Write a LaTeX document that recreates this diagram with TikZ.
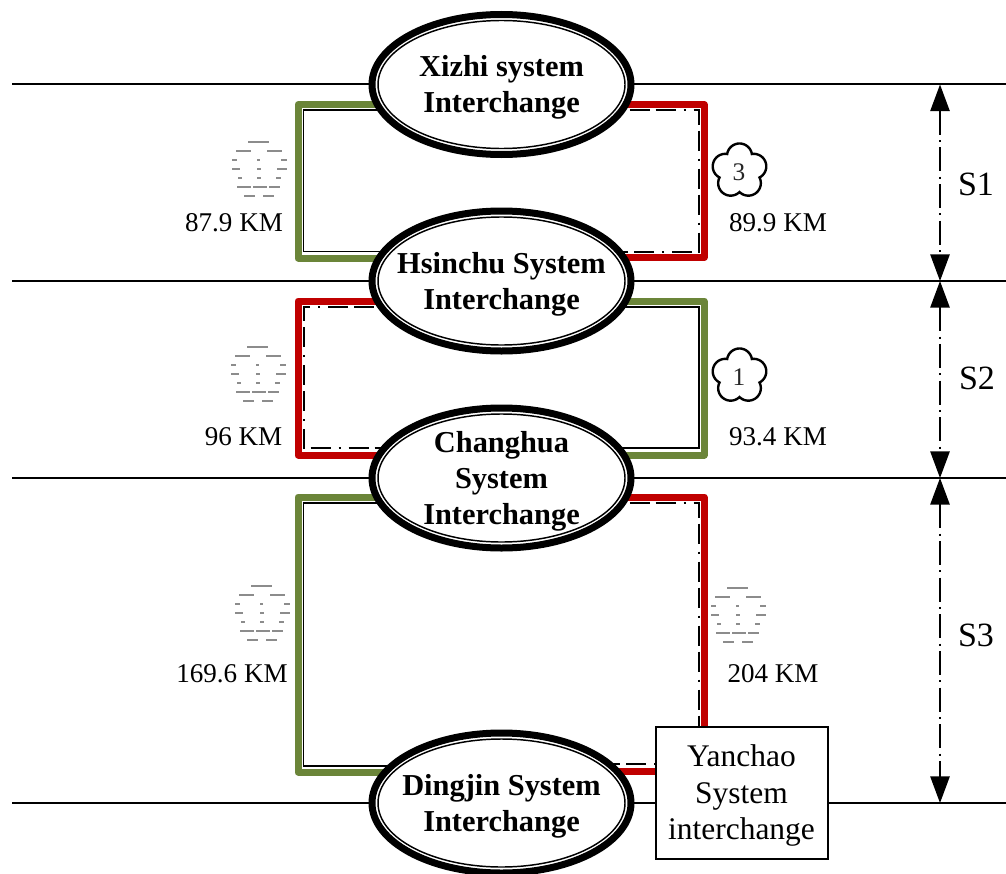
\documentclass[tikz,border=0pt]{standalone}
\usepackage{fontspec}
\setmainfont{Liberation Serif}
\usetikzlibrary{arrows.meta,calc,shapes.geometric}
\pgfdeclarelayer{under}
\pgfsetlayers{under,main}
\definecolor{rtred}{HTML}{C00000}
\definecolor{rtgreen}{HTML}{6B8539}
\tikzset{
  x=0.75pt,y=-0.75pt,
  hwy/.style={draw=black,line width=1.5pt},
  sysnode/.style={ellipse,draw=black,fill=white,line width=5.25pt,inner sep=0pt,minimum width=194.25pt,minimum height=105pt},
  systext/.style={inner sep=0pt,align=center,font=\fontsize{22.8pt}{27pt}\selectfont\bfseries},
  innerring/.style={draw=black,line width=1.1pt},
  thick green/.style={draw=rtgreen,line width=5.25pt,line join=round},
  thick red/.style={draw=rtred,line width=5.25pt,line join=round},
  thin solid/.style={draw=black,line width=0.9pt},
  thin dash/.style={draw=black,line width=1.5pt,dash pattern=on 15pt off 4.5pt on 15pt off 6pt on 1.5pt off 6pt},
  dim/.style={draw=black,line width=1.3pt,dash pattern=on 18pt off 4pt on 1.5pt off 4pt,{Triangle[length=20pt,width=14.5pt]}-{Triangle[length=20pt,width=14.5pt]}},
  kmlabel/.style={inner sep=0pt,font=\fontsize{20.3pt}{24pt}\selectfont},
  seclabel/.style={inner sep=0pt,font=\fontsize{25.5pt}{30pt}\selectfont},
  boxnode/.style={rectangle,draw=black,fill=white,line width=1.5pt,inner sep=0pt,minimum width=129pt,minimum height=99pt},
  boxtext/.style={inner sep=0pt,align=center,font=\fontsize{23.6pt}{27.6pt}\selectfont},
  flowernum/.style={inner sep=0pt,font=\fontsize{19pt}{20pt}\selectfont,text=black!85},
  faint/.style={draw=black!45,line width=1pt},
  flowerline/.style={draw=black,line width=1.8pt},
  fainticon/.pic={
    \foreach \a/\b/\r in {-12/9/-27, -24/-9/-18,7/22/-18, -28/-23/-9,-3/0/-9,21/27/-9, -28/-20/0,-3/1/0,17/27/0, -22/-18/9,-3/1/9,16/21/9, -23/-9/18,-7/7/18,9/20/18, -16/-5/27,3/14/27}
      {\draw[faint] (\a,\r) -- (\b,\r);}
  },
  flowershape/.pic={
    \draw[flowerline,fill=white] plot[domain=0:360,samples=361] (\x:{15*cos(mod(\x+126,72)-36)+sqrt(156.25-225*sin(mod(\x+126,72)-36)^2)}) -- cycle;
  }
}
\begin{document}
\begin{tikzpicture}
\useasboundingbox (0,0) rectangle (1006,874);
\clip (0,0) rectangle (1006,874);
% interchange nodes
\node[sysnode] (xizhi) at (501.5,84.5) {};
\node[sysnode] (hsinchu) at (501.5,281) {};
\node[sysnode] (changhua) at (501.5,478) {};
\node[sysnode] (dingjin) at (501.5,803) {};
\foreach \n in {xizhi,hsinchu,changhua,dingjin}
  \draw[innerring] (\n.center) ellipse [x radius=123.5,y radius=64];
\node[systext] (xizhitext) at (501.5,87) {Xizhi system\\Interchange};
\node[systext] (hsinchutext) at (501.5,284) {Hsinchu System\\Interchange};
\node[systext] (changhuatext) at (501.5,481) {Changhua\\System\\Interchange};
\node[systext] (dingjintext) at (501.5,806) {Dingjin System\\Interchange};
\node[boxnode] (yanchao) at (741.5,793) {};
\node[boxtext] (yanchaotext) at (741.5,795.5) {Yanchao\\System\\interchange};
% anchors
\foreach \y/\n in {84.5/a,281/b,478/c,803/d}{
  \coordinate (hl\n) at (12,\y);
  \coordinate (hr\n) at (1006,\y);
  \coordinate (hm\n) at (940,\y);
}
\foreach \n/\x/\y in {
  ga/298/104.5, gb/298/258, ra/704/104.5, rb/704/257.5,
  ia/303.5/110, ib/303.5/251.7, ja/699/110, jb/699/251.7,
  rc/298/301, rd/298/455, gc/704/301, gd/704/455,
  ic/303.5/307, id/303.5/448, jc/699/307, jd/699/448,
  ge/298/497, gf/298/772, re/704/497, rf/704/771,
  ie/303.5/503, if/303.5/766, je/699/503, jf/699/764}
  \coordinate (\n) at (\x,\y);
\begin{pgfonlayer}{under}
  \foreach \n in {a,b,c,d} \draw[hwy] (hl\n) -- (hr\n);
  % Xizhi - Hsinchu
  \draw[thick green] (xizhi.center |- ga) -- (ga) -- (gb) -- (hsinchu.center |- gb);
  \draw[thin solid] (xizhi.center |- ia) -- (ia) -- (ib) -- (hsinchu.center |- ib);
  \draw[thick red] (xizhi.center |- ra) -- (ra) -- (rb) -- (hsinchu.center |- rb);
  \draw[thin dash] (xizhi.center |- ja) -- (ja) -- (jb) -- (hsinchu.center |- jb);
  % Hsinchu - Changhua
  \draw[thick red] (hsinchu.center |- rc) -- (rc) -- (rd) -- (changhua.center |- rd);
  \draw[thin dash] (hsinchu.center |- ic) -- (ic) -- (id) -- (changhua.center |- id);
  \draw[thick green] (hsinchu.center |- gc) -- (gc) -- (gd) -- (changhua.center |- gd);
  \draw[thin solid] (hsinchu.center |- jc) -- (jc) -- (jd) -- (changhua.center |- jd);
  % Changhua - Dingjin
  \draw[thick green] (changhua.center |- ge) -- (ge) -- (gf) -- (dingjin.center |- gf);
  \draw[thin solid] (changhua.center |- ie) -- (ie) -- (if) -- (dingjin.center |- if);
  \draw[thick red] (changhua.center |- re) -- (re) -- (rf) -- (dingjin.center |- rf);
  \draw[thin dash] (changhua.center |- je) -- (je) -- (jf) -- (dingjin.center |- jf);
\end{pgfonlayer}
% dimension arrows
\draw[dim] (hma) -- (hmb);
\draw[dim] (hmb) -- (hmc);
\draw[dim] (hmc) -- (hmd);
\node[seclabel] (s1) at (976,184) {S1};
\node[seclabel] (s2) at (977,378) {S2};
\node[seclabel] (s3) at (976,635) {S3};
% distance labels
\node[kmlabel] (k1) at (234,223) {87.9 KM};
\node[kmlabel] (k2) at (778,223) {89.9 KM};
\node[kmlabel] (k3) at (243.5,437) {96 KM};
\node[kmlabel] (k4) at (778,437) {93.4 KM};
\node[kmlabel] (k5) at (232,674) {169.6 KM};
\node[kmlabel] (k6) at (773,674) {204 KM};
% route shields
\pic at (739.5,171) {flowershape};
\node[flowernum] (n3) at (739,172) {3};
\pic at (739.5,376) {flowershape};
\node[flowernum] (n1) at (739,377) {1};
\pic at (260,169) {fainticon};
\pic at (259,374) {fainticon};
\pic at (263,613) {fainticon};
\pic at (739,615) {fainticon};
\end{tikzpicture}
\end{document}
